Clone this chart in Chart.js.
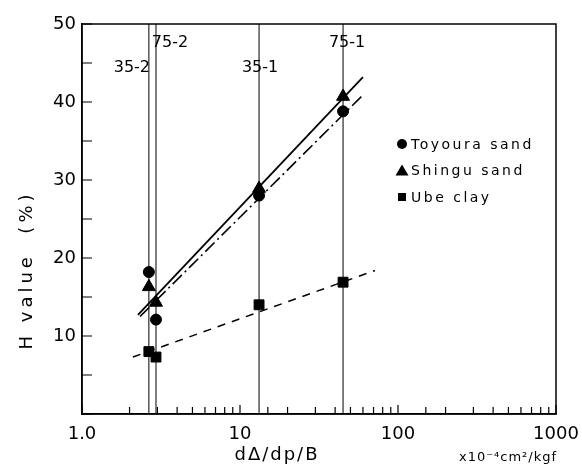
<!DOCTYPE html>
<html>
<head>
<meta charset="utf-8">
<script src="https://cdn.jsdelivr.net/npm/chart.js@4.4.1/dist/chart.umd.min.js"></script>
<style>
  html, body { margin: 0; padding: 0; background: #fff; }
</style>
</head>
<body>
<canvas id="hChart" width="582" height="465"></canvas>
<script>
// test conditions (x position of each vertical line) and their labels
const condX      = [2.65, 2.94, 13.2, 44.9];
const condLabels = ['35-2', '75-2', '35-1', '75-1'];

// H value (%), same order as condX
const toyoura = [18.2, 12.1, 28.0, 38.8];
const shingu  = [16.3, 14.3, 28.9, 40.7];
const ube     = [8.0, 7.3, 14.0, 16.9];

// fitted lines, end points
const fitShinguX  = [2.26, 60];   const fitShinguY  = [12.7, 43.2];
const fitToyouraX = [2.33, 60];   const fitToyouraY = [12.5, 40.9];
const fitUbeX     = [2.1, 71.5];  const fitUbeY     = [7.3, 18.4];

// axes
const xTickValues = [1, 10, 100, 1000];
const xTickLabels = ['1.0', '10', '100', '1000'];
const yMin = 0, yMax = 50, yStep = 5;

const legendItems = [
    { text: 'Toyoura sand', style: 'circle' },
    { text: 'Shingu sand',  style: 'triangle' },
    { text: 'Ube clay',     style: 'rect' }
];

const pts = (xs, ys) => xs.map((x, i) => ({ x: x, y: ys[i] }));
const FONT = '"DejaVu Sans", sans-serif';

const datasets = [];

// vertical lines for each test
condX.forEach(x => {
    datasets.push({
        type: 'line',
        data: [{ x: x, y: yMin }, { x: x, y: yMax }],
        borderColor: '#000',
        borderWidth: 1,
        pointRadius: 0,
        fill: false
    });
});

datasets.push({
    type: 'line', data: pts(fitShinguX, fitShinguY),
    borderColor: '#000', borderWidth: 1.8, pointRadius: 0, fill: false
});
datasets.push({
    type: 'line', data: pts(fitToyouraX, fitToyouraY),
    borderColor: '#000', borderWidth: 1.6, borderDash: [13, 4, 2, 4], pointRadius: 0, fill: false
});
datasets.push({
    type: 'line', data: pts(fitUbeX, fitUbeY),
    borderColor: '#000', borderWidth: 1.5, borderDash: [8, 7], pointRadius: 0, fill: false
});

datasets.push({
    label: 'Toyoura sand', data: pts(condX, toyoura),
    pointStyle: 'circle', pointRadius: 5.5, backgroundColor: '#000', borderColor: '#000'
});
datasets.push({
    label: 'Shingu sand', data: pts(condX, shingu),
    pointStyle: 'triangle', pointRadius: 7.5, backgroundColor: '#000', borderColor: '#000'
});
datasets.push({
    label: 'Ube clay', data: pts(condX, ube),
    pointStyle: 'rect', pointRadius: 7, backgroundColor: '#000', borderColor: '#000'
});

// frame, inward ticks, labels, legend, axis titles
const decorations = {
    id: 'decorations',
    afterDraw(chart) {
        const ctx = chart.ctx;
        const a = chart.chartArea;
        const xs = chart.scales.x, ys = chart.scales.y;
        ctx.save();
        ctx.strokeStyle = '#000';
        ctx.fillStyle = '#000';

        // box
        ctx.lineWidth = 1.5;
        ctx.strokeRect(a.left, a.top, a.right - a.left, a.bottom - a.top);

        // ticks pointing inward
        ctx.lineWidth = 1.2;
        ctx.beginPath();
        xs.ticks.forEach(t => {
            const px = xs.getPixelForValue(t.value);
            const major = Math.abs(Math.log10(t.value) - Math.round(Math.log10(t.value))) < 1e-9;
            ctx.moveTo(px, a.bottom);
            ctx.lineTo(px, a.bottom - (major ? 9 : 7));
        });
        ys.ticks.forEach(t => {
            const py = ys.getPixelForValue(t.value);
            ctx.moveTo(a.left, py);
            ctx.lineTo(a.left + 10, py);
        });
        ctx.stroke();

        // test labels
        ctx.font = '16px ' + FONT;
        ctx.textBaseline = 'middle';
        ctx.textAlign = 'center';
        const offs = [-17, 14, 1, 4];
        const rows = [44.4, 47.6, 44.4, 47.6];
        condX.forEach((x, i) => {
            ctx.fillText(condLabels[i], xs.getPixelForValue(x) + offs[i], ys.getPixelForValue(rows[i]));
        });

        // legend
        ctx.font = '14px ' + FONT;
        ctx.letterSpacing = '2.5px';
        ctx.textAlign = 'left';
        legendItems.forEach((it, i) => {
            const mx = 402, my = 144 + i * 26.5;
            ctx.beginPath();
            if (it.style === 'circle') {
                ctx.arc(mx, my, 5, 0, Math.PI * 2);
            } else if (it.style === 'triangle') {
                ctx.moveTo(mx, my - 6);
                ctx.lineTo(mx + 6.5, my + 5);
                ctx.lineTo(mx - 6.5, my + 5);
                ctx.closePath();
            } else {
                ctx.rect(mx - 4, my - 4, 8, 8);
            }
            ctx.fill();
            ctx.fillText(it.text, mx + 9, my + 1);
        });

        // x title
        ctx.font = '18px ' + FONT;
        ctx.letterSpacing = '2px';
        ctx.textAlign = 'center';
        ctx.fillText('dΔ/dp/B', 277, 455);

        // unit
        ctx.font = '13px ' + FONT;
        ctx.letterSpacing = '1px';
        ctx.fillText('x10⁻⁴cm²/kgf', 508, 458);

        // y title
        ctx.translate(27, 270);
        ctx.rotate(-Math.PI / 2);
        ctx.font = '18px ' + FONT;
        ctx.letterSpacing = '4px';
        ctx.fillText('H value  (%)', 0, 0);
        ctx.restore();
    }
};

new Chart(document.getElementById('hChart'), {
    type: 'scatter',
    data: { datasets: datasets },
    options: {
        responsive: false,
        animation: false,
        layout: { padding: { left: 0, top: 24, right: 26, bottom: 0 } },
        plugins: {
            legend: { display: false },
            tooltip: { enabled: false }
        },
        scales: {
            x: {
                type: 'logarithmic',
                min: 1,
                max: 1000,
                grid: { display: false, drawTicks: false },
                border: { display: true, color: '#000', width: 1.5 },
                ticks: {
                    color: '#000',
                    font: { family: FONT, size: 18 },
                    padding: 10,
                    autoSkip: false,
                    maxRotation: 0,
                    callback: v => {
                        const i = xTickValues.findIndex(t => Math.abs(t - v) < 1e-6 * t);
                        return i >= 0 ? xTickLabels[i] : '';
                    }
                },
                afterFit: s => { s.height = 51; s.paddingLeft = 0; s.paddingRight = 0; }
            },
            y: {
                min: yMin,
                max: yMax,
                grid: { display: false, drawTicks: false },
                border: { display: true, color: '#000', width: 1.5 },
                ticks: {
                    stepSize: yStep,
                    color: '#000',
                    font: { family: FONT, size: 18 },
                    padding: 6,
                    callback: v => (v % 10 === 0 && v > 0) ? String(v) : ''
                },
                afterFit: s => { s.width = 82; s.paddingTop = 0; s.paddingBottom = 0; }
            }
        }
    },
    plugins: [decorations]
});
</script>
</body>
</html>
